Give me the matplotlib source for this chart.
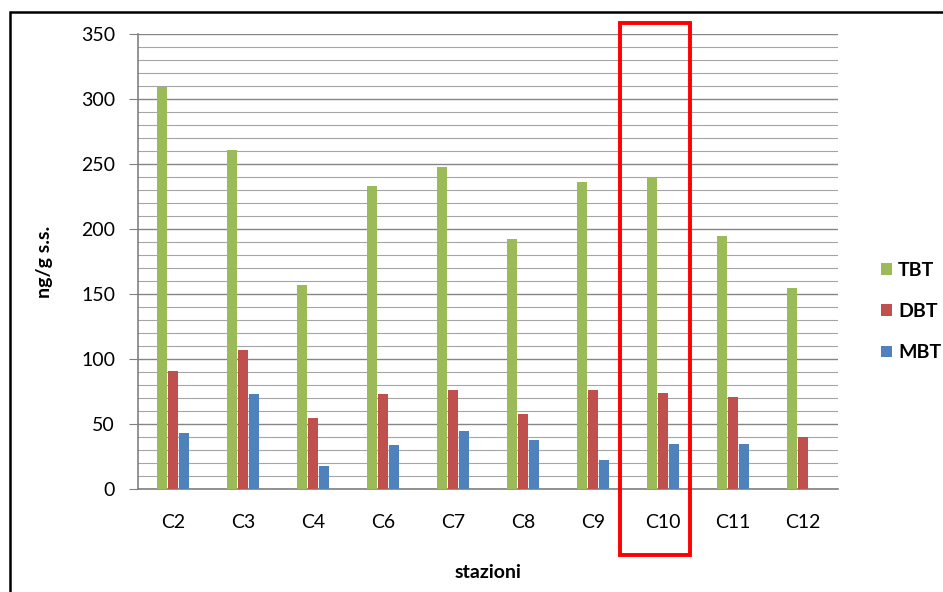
import matplotlib
matplotlib.use("Agg")
import matplotlib.pyplot as plt
import matplotlib.transforms as mtransforms
from matplotlib.patches import Rectangle
from matplotlib.ticker import MultipleLocator
import numpy as np

stazioni = ['C2', 'C3', 'C4', 'C6', 'C7', 'C8', 'C9', 'C10', 'C11', 'C12']
tbt = [309, 261, 157, 233, 248, 192, 236, 239, 195, 155]
dbt = [91, 107, 55, 73, 76, 58, 76, 74, 71, 40]
mbt = [43, 73, 18, 34, 45, 38, 22, 35, 35, 0]

plt.rcParams['font.family'] = ['Lato', 'DejaVu Sans']

fig = plt.figure(figsize=(9.43, 5.92), dpi=100)
ax = fig.add_axes([138/943, 1-489/592, 700/943, 455/592])

x = np.arange(len(stazioni))
w = 0.145
ax.bar(x - 0.16, tbt, w, color='#9BBB59', label='TBT', zorder=3)
ax.bar(x, dbt, w, color='#C0504D', label='DBT', zorder=3)
ax.bar(x + 0.16, mbt, w, color='#4F81BD', label='MBT', zorder=3)

ax.set_xlim(-0.5, len(stazioni) - 0.5)
ax.set_ylim(0, 350)
ax.yaxis.set_major_locator(MultipleLocator(50))
ax.yaxis.set_minor_locator(MultipleLocator(10))
ax.grid(axis='y', which='major', color='#858585', lw=1.0, zorder=0)
ax.grid(axis='y', which='minor', color='#a5a5a5', lw=0.8, zorder=0)
ax.tick_params(axis='y', which='major', length=6.5, color='#808080', labelsize=14, pad=10)
ax.tick_params(axis='y', which='minor', length=0)
ax.tick_params(axis='x', length=0, labelsize=14, pad=18)
ax.set_xticks(x)
ax.set_xticklabels(stazioni)
for s in ['top', 'right']:
    ax.spines[s].set_visible(False)
for s in ['left', 'bottom']:
    ax.spines[s].set_color('#808080')
    ax.spines[s].set_linewidth(1.2)

ax.set_ylabel('ng/g s.s.', fontsize=14, fontweight='bold', labelpad=20)
ax.set_xlabel('stazioni', fontsize=14, fontweight='bold', labelpad=24)

ax.legend(loc='center left', bbox_to_anchor=(1.062, 0.39), frameon=False,
          handlelength=0.55, handleheight=0.55, labelspacing=1.25,
          handletextpad=0.3, borderpad=0, borderaxespad=0,
          prop={'weight': 'bold', 'size': 14})

# red highlight box around C10
trans = mtransforms.blended_transform_factory(ax.transData, ax.transAxes)
ax.add_patch(Rectangle((7 - 0.61, -0.145), 1.0, 1.17, transform=trans,
                       fill=False, edgecolor='#ff0000', lw=2.8, clip_on=False, zorder=5))

# outer frame
fig.add_artist(Rectangle((10/943, -0.1), 1.1, 1 - 12/592 + 0.1, transform=fig.transFigure,
                         fill=False, edgecolor='black', lw=1.8))

fig.savefig('out.png', dpi=100)
